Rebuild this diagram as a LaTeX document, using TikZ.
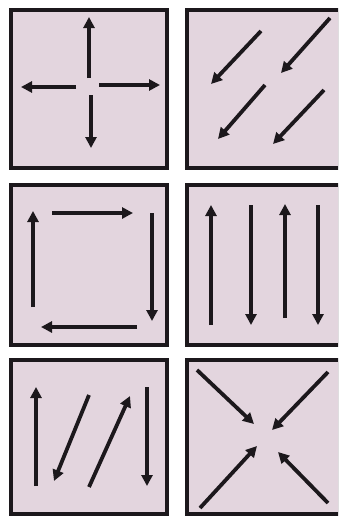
\documentclass[tikz,border=0pt]{standalone}
\usepackage{xcolor}
\usepackage{tikz}
\usetikzlibrary{arrows.meta}
\definecolor{panelfill}{RGB}{227,213,222}
\definecolor{inkdark}{RGB}{28,24,28}

\begin{document}
\begin{tikzpicture}[
  x=1pt, y=-1pt,
  panel/.style={draw=inkdark, line width=3.6pt, fill=panelfill},
  flow/.style={-{Triangle[length=11pt,width=11pt]}, line width=3.8pt, draw=inkdark}
]
  \useasboundingbox (0,0) rectangle (338,517);
  \begin{scope}
    \clip (0,0) rectangle (338,517);
    % panels
    \draw[panel] (11,10)  rectangle (167,168);
    \draw[panel] (187,10) rectangle (340,168);
    \draw[panel] (11,185) rectangle (167,345);
    \draw[panel] (187,185) rectangle (340,345);
    \draw[panel] (11,360) rectangle (167,514);
    \draw[panel] (187,360) rectangle (340,514);
  \end{scope}

  % panel 1: outward cross
  \draw[flow] (89,78) -- (89,17);
  \draw[flow] (91,95) -- (91,148);
  \draw[flow] (76,87) -- (21,87);
  \draw[flow] (99,85) -- (160,85);

  % panel 2: parallel diagonals
  \draw[flow] (261,31) -- (211,84);
  \draw[flow] (330,18) -- (281,73);
  \draw[flow] (265,85) -- (218,139);
  \draw[flow] (324,90) -- (273,144);

  % panel 3: loop
  \draw[flow] (33,307) -- (33,211);
  \draw[flow] (52,213) -- (133,213);
  \draw[flow] (152,213) -- (152,321);
  \draw[flow] (137,327) -- (41,327);

  % panel 4: alternating verticals
  \draw[flow] (211,325) -- (211,205);
  \draw[flow] (251,205) -- (251,325);
  \draw[flow] (285,318) -- (285,204);
  \draw[flow] (318,205) -- (318,325);

  % panel 5: zigzag
  \draw[flow] (36,486) -- (36,387);
  \draw[flow] (89,395) -- (54,481);
  \draw[flow] (89,487) -- (130,396);
  \draw[flow] (147,387) -- (147,486);

  % panel 6: inward cross
  \draw[flow] (197,370) -- (254,424);
  \draw[flow] (328,372) -- (272,430);
  \draw[flow] (200,508) -- (257,446);
  \draw[flow] (328,503) -- (278,452);
\end{tikzpicture}
\end{document}
